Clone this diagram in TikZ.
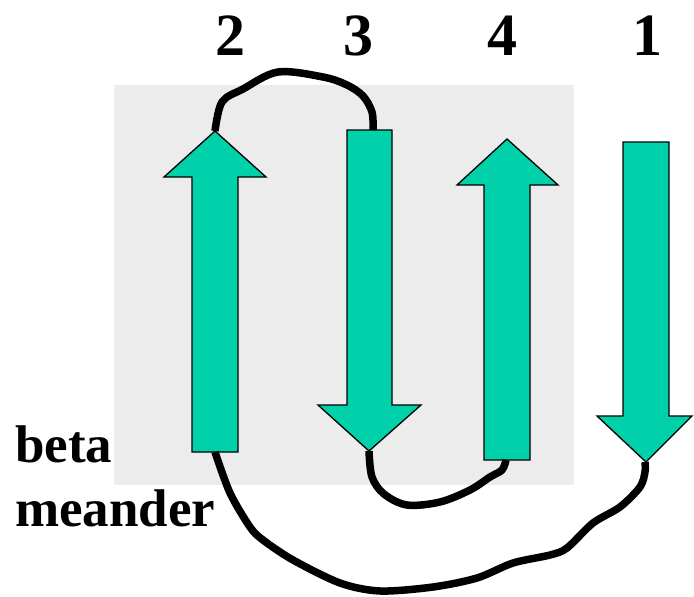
\documentclass[tikz,border=0pt]{standalone}
\usepackage{fontspec}
\setmainfont{Liberation Serif}
\begin{document}
\begin{tikzpicture}[x=1pt,y=-1pt,
  strand/.style={fill=strandgreen,draw=black,line width=1.3pt,line join=miter},
  turn/.style={draw=black,line width=7.5pt,line cap=butt,line join=round},
  numlabel/.style={font=\bfseries\fontsize{60}{60}\selectfont,anchor=base,inner sep=0pt},
  namelabel/.style={font=\bfseries\fontsize{53}{62}\selectfont,anchor=base west,inner sep=0pt}]
\definecolor{strandgreen}{RGB}{0,209,170}
\definecolor{panelgray}{RGB}{236,236,236}
\useasboundingbox (0,0) rectangle (694,597);
% shaded panel behind the meander
\fill[panelgray] (114,85) rectangle (574,485);
% strand 2 (up)
\draw[strand] (192,452) -- (192,177) -- (164,177) -- (215,131) -- (266,177) -- (238,177) -- (238,452) -- cycle;
\coordinate (s2N) at (215,131);
\coordinate (s2S) at (215,452);
% strand 3 (down)
\draw[strand] (347,130) -- (392,130) -- (392,405) -- (421,405) -- (369,451) -- (318,405) -- (347,405) -- cycle;
\coordinate (s3N) at (373,130);
\coordinate (s3S) at (369,451);
% strand 4 (up)
\draw[strand] (484,460) -- (484,185) -- (457,185) -- (507,139) -- (558,185) -- (530,185) -- (530,460) -- cycle;
\coordinate (s4N) at (507,139);
\coordinate (s4S) at (506,460);
% strand 1 (down)
\draw[strand] (623,142) -- (669,142) -- (669,416) -- (692,416) -- (646,462) -- (597,416) -- (623,416) -- cycle;
\coordinate (s1S) at (645,462);
% connecting loops
\draw[turn] plot[smooth,tension=0.55] coordinates {(s2N) (222,102) (243,89) (278,72) (323,77) (347,85) (363,96) (372,112) (s3N)};
\draw[turn] plot[smooth,tension=0.55] coordinates {(s3S) (372,477) (384,494) (407,505) (440,502) (470,490) (490,477) (502,470) (s4S)};
\draw[turn] plot[smooth,tension=0.5] coordinates {(s2S) (230,493) (250,527) (263,540) (293,560) (340,583) (380,591) (433,587) (477,578) (513,563) (550,555) (567,548) (593,523) (620,507) (640,487) (645,472) (s1S)};
% strand numbers
\node[numlabel] (n2) at (230,55) {2};
\node[numlabel] (n3) at (358,55) {3};
\node[numlabel] (n4) at (502,55) {4};
\node[numlabel] (n1) at (647,55) {1};
% caption
\node[namelabel] (beta) at (15,462) {beta};
\node[namelabel] (meander) at (15,526) {meander};
\end{tikzpicture}
\end{document}
